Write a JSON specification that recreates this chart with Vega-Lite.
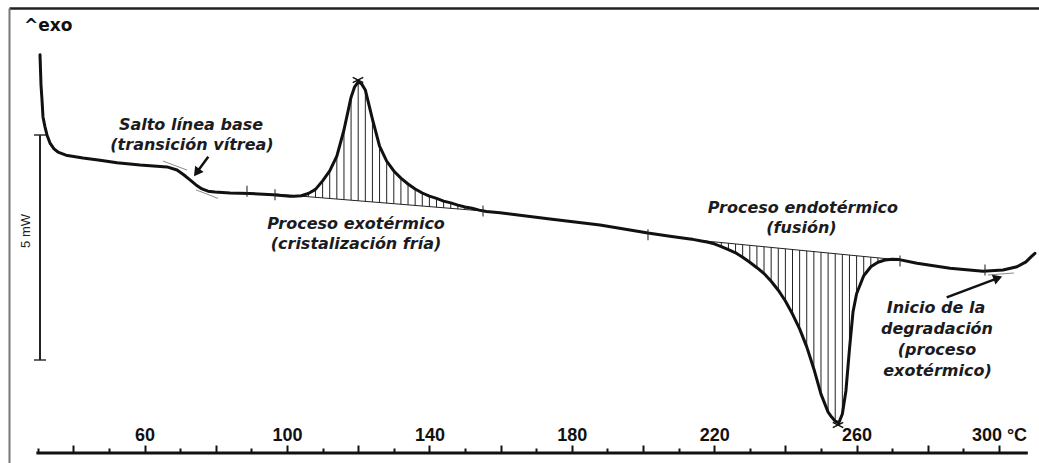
{
  "$schema": "https://vega.github.io/schema/vega-lite/v6.json",
  "width": 1030,
  "height": 455,
  "autosize": {"type": "none"},
  "padding": {"left": 9, "top": 8, "right": 0, "bottom": 0},
  "background": "white",
  "config": {"view": {"stroke": null}, "axis": {"grid": false}},
  "resolve": {"axis": {"x": "independent", "y": "independent"}},
  "datasets": {
    "curve": [
      {"T": 30.62, "v": 9.07}, {"T": 30.76, "v": 8.73}, {"T": 30.9, "v": 8.4}, {"T": 31.18, "v": 8.07},
      {"T": 31.46, "v": 7.69}, {"T": 32.02, "v": 7.47}, {"T": 32.58, "v": 7.29}, {"T": 33.43, "v": 7.11},
      {"T": 34.55, "v": 6.98}, {"T": 35.67, "v": 6.91}, {"T": 37.92, "v": 6.84}, {"T": 42.7, "v": 6.78},
      {"T": 47.47, "v": 6.73}, {"T": 52.25, "v": 6.67}, {"T": 58.71, "v": 6.62}, {"T": 66.29, "v": 6.58},
      {"T": 69.1, "v": 6.51}, {"T": 71.07, "v": 6.4}, {"T": 72.75, "v": 6.29}, {"T": 74.44, "v": 6.18},
      {"T": 76.12, "v": 6.09}, {"T": 77.81, "v": 6.04}, {"T": 79.78, "v": 6.02}, {"T": 83.99, "v": 6.0},
      {"T": 89.61, "v": 5.99}, {"T": 96.07, "v": 5.96}, {"T": 100.84, "v": 5.93}, {"T": 102, "v": 5.93},
      {"T": 104, "v": 5.94}, {"T": 106, "v": 5.99}, {"T": 108, "v": 6.08}, {"T": 110, "v": 6.27},
      {"T": 112, "v": 6.49}, {"T": 114, "v": 6.82}, {"T": 116, "v": 7.4}, {"T": 118, "v": 8.13},
      {"T": 119, "v": 8.36}, {"T": 120, "v": 8.47}, {"T": 121, "v": 8.42}, {"T": 122, "v": 8.29},
      {"T": 124, "v": 7.64}, {"T": 126, "v": 7.04}, {"T": 128, "v": 6.71}, {"T": 130, "v": 6.49},
      {"T": 132, "v": 6.33}, {"T": 134, "v": 6.2}, {"T": 136, "v": 6.09}, {"T": 138, "v": 6.0},
      {"T": 140, "v": 5.93}, {"T": 142, "v": 5.88}, {"T": 144, "v": 5.82}, {"T": 146, "v": 5.78},
      {"T": 148, "v": 5.73}, {"T": 150, "v": 5.69}, {"T": 152, "v": 5.66}, {"T": 154, "v": 5.62},
      {"T": 156, "v": 5.59}, {"T": 159.83, "v": 5.56}, {"T": 173.88, "v": 5.42}, {"T": 187.92, "v": 5.29},
      {"T": 201.4, "v": 5.11}, {"T": 207.58, "v": 5.04}, {"T": 213.2, "v": 4.98}, {"T": 214, "v": 4.97},
      {"T": 216, "v": 4.94}, {"T": 218, "v": 4.91}, {"T": 220, "v": 4.87}, {"T": 222, "v": 4.81},
      {"T": 224, "v": 4.74}, {"T": 226, "v": 4.67}, {"T": 228, "v": 4.57}, {"T": 230, "v": 4.46},
      {"T": 232, "v": 4.34}, {"T": 234, "v": 4.21}, {"T": 236, "v": 4.04}, {"T": 238, "v": 3.84},
      {"T": 240, "v": 3.6}, {"T": 242, "v": 3.31}, {"T": 244, "v": 2.98}, {"T": 246, "v": 2.58},
      {"T": 248, "v": 2.09}, {"T": 250, "v": 1.53}, {"T": 252, "v": 1.13}, {"T": 253, "v": 1.02},
      {"T": 254, "v": 0.93}, {"T": 255, "v": 0.89}, {"T": 256, "v": 1.09}, {"T": 257, "v": 1.6},
      {"T": 258, "v": 2.53}, {"T": 259, "v": 3.36}, {"T": 260, "v": 3.76}, {"T": 262, "v": 4.16},
      {"T": 264, "v": 4.36}, {"T": 266, "v": 4.46}, {"T": 268, "v": 4.51}, {"T": 270, "v": 4.53},
      {"T": 272, "v": 4.52}, {"T": 276.97, "v": 4.44}, {"T": 286.24, "v": 4.33}, {"T": 295.51, "v": 4.26},
      {"T": 301.12, "v": 4.29}, {"T": 305.06, "v": 4.36}, {"T": 307.58, "v": 4.47}, {"T": 309.0, "v": 4.58},
      {"T": 310.1, "v": 4.66}
    ],
    "hatch": [
      {"T": 104, "v": 5.94, "v2": 5.93}, {"T": 106, "v": 5.99, "v2": 5.917}, {"T": 108, "v": 6.08, "v2": 5.904},
      {"T": 110, "v": 6.27, "v2": 5.892}, {"T": 112, "v": 6.49, "v2": 5.879}, {"T": 114, "v": 6.82, "v2": 5.866},
      {"T": 116, "v": 7.4, "v2": 5.853}, {"T": 118, "v": 8.13, "v2": 5.84}, {"T": 120, "v": 8.47, "v2": 5.827},
      {"T": 122, "v": 8.29, "v2": 5.814}, {"T": 124, "v": 7.64, "v2": 5.801}, {"T": 126, "v": 7.04, "v2": 5.788},
      {"T": 128, "v": 6.71, "v2": 5.775}, {"T": 130, "v": 6.49, "v2": 5.762}, {"T": 132, "v": 6.33, "v2": 5.749},
      {"T": 134, "v": 6.2, "v2": 5.736}, {"T": 136, "v": 6.09, "v2": 5.723}, {"T": 138, "v": 6.0, "v2": 5.71},
      {"T": 140, "v": 5.93, "v2": 5.697}, {"T": 142, "v": 5.88, "v2": 5.684}, {"T": 144, "v": 5.82, "v2": 5.671},
      {"T": 146, "v": 5.78, "v2": 5.658}, {"T": 148, "v": 5.73, "v2": 5.645}, {"T": 150, "v": 5.69, "v2": 5.633},
      {"T": 152, "v": 5.66, "v2": 5.62}, {"T": 154, "v": 5.62, "v2": 5.607},
      {"T": 218, "v": 4.93, "v2": 4.91}, {"T": 220, "v": 4.914, "v2": 4.87}, {"T": 222, "v": 4.899, "v2": 4.81},
      {"T": 224, "v": 4.884, "v2": 4.74}, {"T": 226, "v": 4.868, "v2": 4.67}, {"T": 228, "v": 4.853, "v2": 4.57},
      {"T": 230, "v": 4.837, "v2": 4.46}, {"T": 232, "v": 4.822, "v2": 4.34}, {"T": 234, "v": 4.806, "v2": 4.21},
      {"T": 236, "v": 4.791, "v2": 4.04}, {"T": 238, "v": 4.775, "v2": 3.84}, {"T": 240, "v": 4.76, "v2": 3.6},
      {"T": 242, "v": 4.744, "v2": 3.31}, {"T": 244, "v": 4.729, "v2": 2.98}, {"T": 246, "v": 4.714, "v2": 2.58},
      {"T": 248, "v": 4.698, "v2": 2.09}, {"T": 250, "v": 4.683, "v2": 1.53}, {"T": 252, "v": 4.667, "v2": 1.13},
      {"T": 254, "v": 4.652, "v2": 0.93}, {"T": 256, "v": 4.636, "v2": 1.09}, {"T": 258, "v": 4.621, "v2": 2.53},
      {"T": 260, "v": 4.605, "v2": 3.76}, {"T": 262, "v": 4.59, "v2": 4.16}, {"T": 264, "v": 4.574, "v2": 4.36},
      {"T": 266, "v": 4.559, "v2": 4.46}, {"T": 268, "v": 4.543, "v2": 4.51}
    ],
    "thin": [
      {"T": 96.63, "v": 5.978, "T2": 155.06, "v2": 5.6, "kind": "base"},
      {"T": 213.2, "v": 4.967, "T2": 272.2, "v2": 4.511, "kind": "base"},
      {"T": 65.17, "v": 6.71, "T2": 71.91, "v2": 6.51, "kind": "tangent"},
      {"T": 74.44, "v": 6.07, "T2": 80.62, "v2": 5.88, "kind": "tangent"},
      {"T": 296.9, "v": 4.178, "T2": 304.2, "v2": 4.222, "kind": "tangent"}
    ],
    "axisline": [{"T": 29.6, "T2": 308.1, "v": 0.2222}],
    "markers": [
      {"T": 88.76, "v": 6.04}, {"T": 96.63, "v": 5.96}, {"T": 155.06, "v": 5.6},
      {"T": 201.4, "v": 5.07}, {"T": 272.2, "v": 4.49}, {"T": 296.07, "v": 4.29}
    ],
    "peaks": [{"T": 119.94, "v": 8.51}, {"T": 254.78, "v": 0.844}],
    "scalebar": [{"T": 30.62, "v": 7.289, "v2": 2.289}],
    "caps": [{"T": 30.62, "v": 7.289}, {"T": 30.62, "v": 2.289}],
    "arrows": [
      {"id": "tg", "T": 77.89, "v": 6.807, "T2": 74.63, "v2": 6.456},
      {"id": "deg", "T": 285.31, "v": 3.682, "T2": 299.7, "v2": 4.109}
    ],
    "notes": [
      {"T": 73.03, "v": 7.4, "text": "Salto línea base"},
      {"T": 73.31, "v": 6.95, "text": "(transición vítrea)"},
      {"T": 119.38, "v": 5.2, "text": "Proceso exotérmico"},
      {"T": 119.38, "v": 4.76, "text": "(cristalización fría)"},
      {"T": 244.94, "v": 5.55, "text": "Proceso endotérmico"},
      {"T": 244.52, "v": 5.12, "text": "(fusión)"},
      {"T": 282.3, "v": 3.333, "text": "Inicio de la"},
      {"T": 282.58, "v": 2.867, "text": "degradación"},
      {"T": 282.58, "v": 2.4, "text": "(proceso"},
      {"T": 282.72, "v": 1.933, "text": "exotérmico)"}
    ],
    "exo": [{"T": 26.12, "v": 9.6, "text": "^exo"}],
    "mw": [{"T": 26.63, "v": 5.156, "text": "5 mW"}]
  },
  "encoding": {
    "x": {"field": "T", "type": "quantitative", "scale": {"domain": [21.91, 311.24], "nice": false, "zero": false}, "axis": null},
    "y": {"field": "v", "type": "quantitative", "scale": {"domain": [0, 10.1111], "nice": false, "zero": false}, "axis": null}
  },
  "layer": [
    {
      "data": {"name": "hatch"},
      "mark": {"type": "rule", "color": "#222", "strokeWidth": 1},
      "encoding": {
        "x": {"field": "T", "type": "quantitative", "scale": {"domain": [21.91, 311.24], "nice": false, "zero": false},
          "axis": {"orient": "bottom", "offset": -10, "values": [30, 50, 70, 90, 110, 130, 150, 170, 190, 210, 230, 250, 270, 290],
            "tickSize": -5, "tickWidth": 2, "tickColor": "#111", "domain": false, "labels": false, "title": null, "grid": false}},
        "y2": {"field": "v2"}
      }
    },
    {
      "data": {"name": "thin"},
      "mark": {"type": "rule", "strokeWidth": 1},
      "encoding": {
        "x": {"field": "T", "type": "quantitative", "scale": {"domain": [21.91, 311.24], "nice": false, "zero": false},
          "axis": {"orient": "top", "domain": true, "domainColor": "#222", "domainWidth": 2.5, "ticks": false, "labels": false, "title": null, "grid": false}},
        "x2": {"field": "T2"},
        "y2": {"field": "v2"},
        "color": {"field": "kind", "type": "nominal", "scale": {"domain": ["base", "tangent"], "range": ["#222222", "#8c8c8c"]}, "legend": null}
      }
    },
    {
      "data": {"name": "axisline"},
      "mark": {"type": "rule", "color": "#111", "strokeWidth": 3},
      "encoding": {"x2": {"field": "T2"}}
    },
    {
      "data": {"name": "curve"},
      "mark": {"type": "line", "color": "#111", "strokeWidth": 3, "strokeJoin": "round", "strokeCap": "round"},
      "encoding": {
        "x": {"field": "T", "type": "quantitative", "scale": {"domain": [21.91, 311.24], "nice": false, "zero": false},
          "axis": {"orient": "bottom", "offset": -10, "values": [40, 60, 80, 100, 120, 140, 160, 180, 200, 220, 240, 260, 280, 300],
            "tickSize": -8, "tickWidth": 2, "tickColor": "#111", "domain": false, "title": null, "grid": false,
            "labelExpr": "datum.value === 300 ? '\u00a0\u00a0\u00a0\u00a0\u00a0300 °C' : ((datum.value - 60) % 40 === 0 ? datum.label : '')",
            "labelFont": "Arial", "labelFontWeight": 700, "labelFontSize": 18, "labelColor": "#111",
            "labelBaseline": "alphabetic", "labelPadding": -5, "labelAngle": 0, "labelOverlap": false, "labelFlush": false}},
        "y": {"field": "v", "type": "quantitative", "scale": {"domain": [0, 10.1111], "nice": false, "zero": false},
          "axis": {"orient": "left", "domain": true, "domainColor": "#777", "domainWidth": 2, "ticks": false, "labels": false, "title": null, "grid": false}}
      }
    },
    {
      "data": {"name": "markers"},
      "mark": {"type": "tick", "orient": "vertical", "color": "#222", "size": 11, "thickness": 1.5}
    },
    {
      "data": {"name": "peaks"},
      "mark": {"type": "point", "shape": "M-1,-0.5L1,0.5M-1,0.5L1,-0.5", "filled": false, "stroke": "#111", "strokeWidth": 1.5, "size": 110, "opacity": 1}
    },
    {
      "data": {"name": "scalebar"},
      "mark": {"type": "rule", "color": "#222", "strokeWidth": 2},
      "encoding": {"y2": {"field": "v2"}}
    },
    {
      "data": {"name": "caps"},
      "mark": {"type": "tick", "orient": "horizontal", "color": "#222", "size": 12, "thickness": 2}
    },
    {
      "data": {"name": "arrows"},
      "mark": {"type": "rule", "color": "#111", "strokeWidth": 2.5},
      "encoding": {"x2": {"field": "T2"}, "y2": {"field": "v2"}}
    },
    {
      "data": {"name": "arrows"},
      "transform": [{"filter": "datum.id === 'tg'"}],
      "mark": {"type": "point", "shape": "triangle-up", "filled": true, "color": "#111", "size": 110, "angle": 216.4, "opacity": 1},
      "encoding": {
        "x": {"field": "T2", "type": "quantitative", "scale": {"domain": [21.91, 311.24], "nice": false, "zero": false}, "axis": null},
        "y": {"field": "v2", "type": "quantitative", "scale": {"domain": [0, 10.1111], "nice": false, "zero": false}, "axis": null}
      }
    },
    {
      "data": {"name": "arrows"},
      "transform": [{"filter": "datum.id === 'deg'"}],
      "mark": {"type": "point", "shape": "triangle-up", "filled": true, "color": "#111", "size": 110, "angle": 69.7, "opacity": 1},
      "encoding": {
        "x": {"field": "T2", "type": "quantitative", "scale": {"domain": [21.91, 311.24], "nice": false, "zero": false}, "axis": null},
        "y": {"field": "v2", "type": "quantitative", "scale": {"domain": [0, 10.1111], "nice": false, "zero": false}, "axis": null}
      }
    },
    {
      "data": {"name": "notes"},
      "mark": {"type": "text", "font": "DejaVu Sans", "fontSize": 16, "fontWeight": "bold", "fontStyle": "italic", "color": "#1b1b22", "align": "center", "baseline": "alphabetic"},
      "encoding": {"text": {"field": "text"}}
    },
    {
      "data": {"name": "exo"},
      "mark": {"type": "text", "font": "DejaVu Sans", "fontSize": 17, "fontWeight": "bold", "color": "#111", "align": "left", "baseline": "alphabetic"},
      "encoding": {"text": {"field": "text"}}
    },
    {
      "data": {"name": "mw"},
      "mark": {"type": "text", "font": "Liberation Sans", "fontSize": 13, "color": "#222", "align": "center", "baseline": "middle", "angle": 270},
      "encoding": {"text": {"field": "text"}}
    }
  ]
}
